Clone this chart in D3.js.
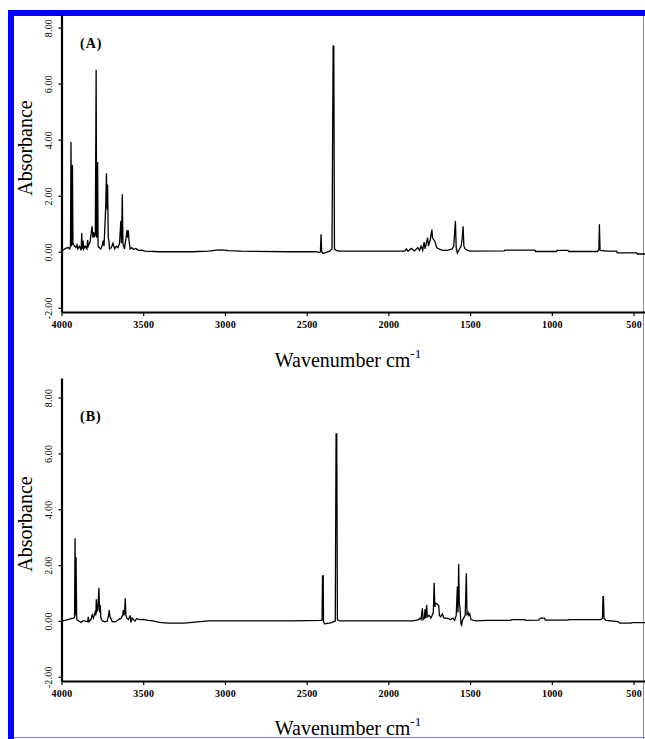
<!DOCTYPE html>
<html>
<head>
<meta charset="utf-8">
<script src="https://cdn.jsdelivr.net/npm/d3@7"></script>
<style>
  body { margin: 0; background: #fff; }
  svg { display: block; }
  text { font-family: "Liberation Serif", "Times New Roman", serif; fill: #000; }
</style>
</head>
<body>
<svg width="645" height="739" font-family="Liberation Serif, serif"></svg>
<script>
// values
const xTicks = [4000, 3500, 3000, 2500, 2000, 1500, 1000, 500];
const yTicks = [-2, 0, 2, 4, 6, 8];
const panelNames = ["(A)", "(B)"];
const xTitle = "Wavenumber cm";
const xTitleSup = "-1";
const yTitle = "Absorbance";

// [wavenumber, absorbance]
const spectrumA = [
  [4000, 0.02], [3985, 0.08], [3975, 0.12], [3960, 0.15], [3950, 0.1], [3945, 0.2],
  [3942, 3.92], [3939, 0.2], [3935, 0.3], [3933, 3.1], [3930, 0.3], [3920, 0.2],
  [3912, 0.15], [3905, 0.25], [3900, 0.1], [3890, 0.2], [3880, 0.05], [3876, 0.67],
  [3873, 0.1], [3868, 0.4], [3864, 0.1], [3855, 0.2], [3845, 0.1], [3840, 0.42],
  [3836, 0.2], [3825, 0.35], [3820, 0.6], [3813, 0.91], [3808, 0.5], [3803, 0.7],
  [3798, 0.55], [3793, 0.6], [3788, 6.5], [3785, 0.5], [3782, 0.7], [3779, 3.2],
  [3776, 0.2], [3770, 0.15], [3760, 0.1], [3752, 0.2], [3745, 0.4], [3740, 0.2],
  [3733, 1.1], [3729, 1.73], [3725, 2.8], [3721, 1.5], [3718, 2.4], [3714, 0.5],
  [3710, 0.4], [3706, 0.1], [3695, 0.15], [3685, 0.3], [3675, 0.1], [3665, 0.2],
  [3655, 0.15], [3645, 0.3], [3637, 1.1], [3633, 0.3], [3628, 2.05], [3624, 0.3],
  [3615, 0.1], [3605, 0.5], [3599, 0.77], [3595, 0.5], [3591, 0.77], [3587, 0.4],
  [3580, 0.1], [3570, 0.15], [3560, 0.08], [3545, 0.12], [3530, 0.05], [3510, 0.06],
  [3490, 0.02], [3400, 0.0], [3200, 0.0], [3100, 0.02], [3050, 0.06], [3020, 0.07],
  [2980, 0.04], [2900, 0.02], [2600, 0.0], [2440, 0.0], [2425, -0.03], [2416, 0.0],
  [2412, 0.62], [2408, 0.0], [2400, -0.06], [2380, -0.02], [2360, 0.02], [2345, 0.1],
  [2338, 7.34], [2334, 7.34], [2330, 0.1], [2320, 0.05], [2300, 0.02], [1900, 0.02],
  [1890, 0.1], [1880, 0.02], [1860, 0.12], [1840, 0.03], [1820, 0.15], [1810, 0.05],
  [1800, 0.2], [1790, 0.05], [1781, 0.35], [1776, 0.1], [1760, 0.5], [1755, 0.2],
  [1745, 0.4], [1734, 0.79], [1730, 0.5], [1725, 0.45], [1718, 0.4], [1712, 0.3],
  [1705, 0.15], [1690, 0.1], [1670, 0.05], [1640, 0.05], [1610, 0.1], [1600, 0.2],
  [1590, 1.1], [1585, 0.15], [1578, -0.05], [1565, 0.1], [1555, 0.2], [1548, 0.5],
  [1543, 0.91], [1538, 0.2], [1530, 0.1], [1515, 0.05], [1500, 0.02], [1290, 0.03],
  [1287, 0.06], [1103, 0.06], [1100, 0.01], [970, 0.01], [968, 0.05], [901, 0.05],
  [898, 0.01], [720, 0.01], [712, 0.1], [709, 0.98], [705, 0.05], [660, 0.02],
  [603, 0.02], [600, -0.04], [480, -0.04], [477, -0.08], [430, -0.08]
];

const spectrumB = [
  [4000, 0.0], [3980, 0.02], [3960, 0.05], [3940, 0.08], [3925, 0.1], [3920, 0.15],
  [3917, 2.96], [3914, 0.2], [3911, 2.28], [3907, 0.05], [3895, 0.0], [3880, -0.05],
  [3870, 0.0], [3860, 0.0], [3840, -0.03], [3836, 0.15], [3832, -0.02], [3820, 0.05],
  [3812, 0.22], [3805, 0.1], [3795, 0.3], [3790, 0.2], [3787, 0.78], [3783, 0.35],
  [3778, 0.4], [3771, 1.19], [3767, 0.3], [3763, 0.57], [3759, 0.1], [3750, 0.0],
  [3735, -0.03], [3720, 0.0], [3712, 0.2], [3708, 0.39], [3704, 0.15], [3698, 0.1],
  [3690, -0.02], [3670, -0.03], [3650, 0.05], [3635, 0.1], [3626, 0.2], [3622, 0.39],
  [3618, 0.2], [3614, 0.3], [3610, 0.81], [3606, 0.2], [3600, 0.1], [3590, 0.05],
  [3580, 0.2], [3575, -0.05], [3568, 0.1], [3560, 0.05], [3550, 0.0], [3540, 0.08],
  [3520, 0.05], [3500, 0.06], [3470, 0.02], [3440, 0.0], [3400, -0.05], [3350, -0.08],
  [3250, -0.08], [3200, -0.05], [3100, 0.0], [2900, 0.0], [2600, 0.0], [2420, 0.02],
  [2406, 0.03], [2403, 1.61], [2399, 1.61], [2397, 0.0], [2392, -0.1], [2360, -0.08],
  [2345, -0.05], [2325, 0.0], [2320, 6.7], [2316, 6.7], [2312, 0.05], [2300, 0.0],
  [1850, 0.0], [1815, 0.05], [1806, 0.1], [1800, 0.05], [1792, 0.45], [1788, 0.05],
  [1780, 0.1], [1776, 0.42], [1772, 0.1], [1766, 0.57], [1762, 0.15], [1750, 0.2],
  [1740, 0.1], [1725, 0.3], [1720, 1.37], [1716, 0.5], [1712, 0.65], [1700, 0.6],
  [1692, 0.55], [1688, 0.2], [1680, 0.15], [1670, 0.25], [1660, 0.1], [1640, 0.1],
  [1620, 0.05], [1605, 0.1], [1595, 0.02], [1585, 0.2], [1578, 1.23], [1574, 0.3],
  [1570, 2.04], [1566, 0.6], [1562, 0.5], [1556, -0.1], [1552, -0.15], [1548, 0.0],
  [1540, 0.1], [1530, 0.2], [1523, 1.71], [1519, 0.2], [1512, 0.3], [1508, 0.2],
  [1502, 0.25], [1495, 0.05], [1480, 0.02], [1460, 0.0], [1400, 0.02], [1250, 0.02],
  [1245, 0.05], [1165, 0.05], [1160, 0.02], [1080, 0.03], [1070, 0.1], [1045, 0.1],
  [1040, 0.03], [900, 0.03], [895, 0.05], [700, 0.05], [690, 0.1], [687, 0.87],
  [684, 0.87], [681, 0.1], [670, 0.02], [595, -0.02], [585, -0.08], [515, -0.08],
  [510, -0.06], [430, -0.06]
];

const svg = d3.select("svg");

// blue frame of the scanned page
svg.append("rect").attr("x", 8).attr("y", 10).attr("width", 637).attr("height", 6).attr("fill", "#0000ff");
svg.append("rect").attr("x", 8).attr("y", 10).attr("width", 6).attr("height", 729).attr("fill", "#0000ff");
svg.append("line").attr("x1", 643.5).attr("x2", 643.5).attr("y1", 16).attr("y2", 739)
   .attr("stroke", "#8080ff").attr("stroke-width", 1);
svg.append("line").attr("x1", 14).attr("x2", 645).attr("y1", 737.5).attr("y2", 737.5)
   .attr("stroke", "#8080ff").attr("stroke-width", 1);

const x = d3.scaleLinear().domain([4000, 430]).range([61.5, 645]);

const panels = [
  { name: panelNames[0], data: spectrumA, yDomain: [-2.15, 8.45], yRange: [312, 15],
    labelY: 48, yTitleY: 148, xTitleY: 367 },
  { name: panelNames[1], data: spectrumB, yDomain: [-2.15, 8.7], yRange: [681, 378],
    labelY: 421, yTitleY: 524, xTitleY: 735 }
];

panels.forEach(p => {
  const y = d3.scaleLinear().domain(p.yDomain).range(p.yRange);
  const g = svg.append("g");

  const line = d3.line()
    .x(d => x(d[0]))
    .y(d => y(d[1]));

  g.append("path")
    .datum(p.data)
    .attr("fill", "none")
    .attr("stroke", "#000")
    .attr("stroke-width", 1.3)
    .attr("d", line);

  const xAxis = g.append("g")
    .attr("transform", "translate(0," + p.yRange[0] + ")")
    .call(d3.axisBottom(x).tickValues(xTicks).tickSize(4).tickSizeOuter(0).tickPadding(5)
      .tickFormat(d => String(d)));
  xAxis.attr("font-family", null).attr("font-size", null);
  xAxis.select(".domain").attr("stroke-width", 2.2);
  xAxis.selectAll(".tick line").attr("stroke-width", 1.2);
  xAxis.selectAll(".tick text")
    .style("font-size", "10px")
    .style("font-weight", "bold")
    .style("letter-spacing", "0.2px");

  const yAxis = g.append("g")
    .attr("transform", "translate(" + x(4000) + ",0)")
    .call(d3.axisLeft(y).tickValues(yTicks).tickSize(3).tickSizeOuter(0)
      .tickFormat(d => d.toFixed(2)));
  yAxis.attr("font-family", null).attr("font-size", null);
  yAxis.select(".domain").attr("stroke-width", 2.2);
  yAxis.selectAll(".tick line").attr("stroke-width", 1.2);
  yAxis.selectAll(".tick text")
    .attr("transform", "rotate(-90)")
    .attr("x", 0)
    .attr("y", -9.5)
    .attr("dy", 0)
    .attr("text-anchor", "middle")
    .style("font-size", "10px")
    .style("letter-spacing", "0.2px");

  g.append("text")
    .attr("x", 80)
    .attr("y", p.labelY)
    .style("font-size", "14px")
    .style("font-weight", "bold")
    .style("letter-spacing", "1px")
    .text(p.name);

  g.append("text")
    .attr("transform", "translate(32," + p.yTitleY + ") rotate(-90)")
    .attr("text-anchor", "middle")
    .style("font-size", "20px")
    .text(yTitle);

  const xt = g.append("text")
    .attr("x", 348)
    .attr("y", p.xTitleY)
    .attr("text-anchor", "middle")
    .style("font-size", "20px");
  xt.append("tspan").text(xTitle);
  xt.append("tspan").attr("dy", -9).style("font-size", "13px").text(xTitleSup);
});
</script>
</body>
</html>
